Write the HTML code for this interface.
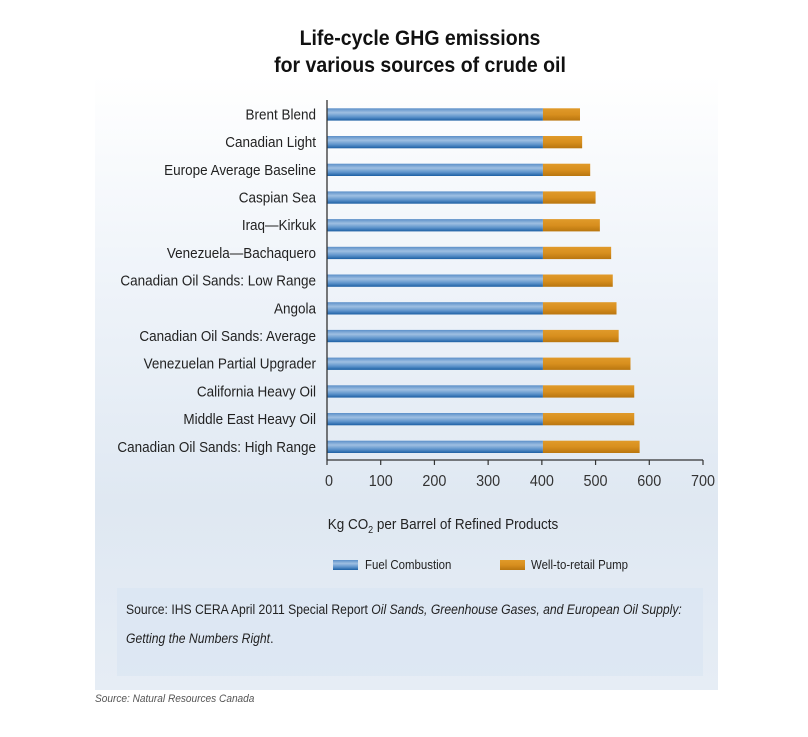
<!DOCTYPE html>
<html><head><meta charset="utf-8"><style>
body{margin:0;background:#fff;}
svg text{font-family:"Liberation Sans",sans-serif;}
</style></head><body>
<svg width="808" height="732" viewBox="0 0 808 732" xmlns="http://www.w3.org/2000/svg">
<defs>
<linearGradient id="bg" x1="0" y1="0" x2="0" y2="1">
<stop offset="0" stop-color="#ffffff"/><stop offset="0.35" stop-color="#eef3f9"/><stop offset="0.7" stop-color="#dfe8f2"/><stop offset="1" stop-color="#e6edf5"/></linearGradient>
<linearGradient id="blue" x1="0" y1="0" x2="0" y2="1">
<stop offset="0" stop-color="#5b8fc8"/><stop offset="0.35" stop-color="#9ebfe2"/><stop offset="0.7" stop-color="#5d93cb"/><stop offset="1" stop-color="#1c5fa3"/></linearGradient>
<linearGradient id="orange" x1="0" y1="0" x2="0" y2="1">
<stop offset="0" stop-color="#e09a2a"/><stop offset="0.5" stop-color="#d88f1e"/><stop offset="1" stop-color="#b9760f"/></linearGradient>
</defs>
<rect x="95" y="75" width="623" height="615" fill="url(#bg)"/>
<rect x="117" y="588" width="586" height="88" fill="#dae6f2" opacity="0.7"/>
<text class="c" data-sx="0.93" x="420" y="45" text-anchor="middle" font-size="21" font-weight="bold" fill="#111">Life-cycle GHG emissions</text>
<text class="c" data-sx="0.93" x="420" y="72" text-anchor="middle" font-size="21" font-weight="bold" fill="#111">for various sources of crude oil</text>
<g id="plot"></g>
<text class="c" data-sx="0.9" x="443" y="529" text-anchor="middle" font-size="15" fill="#222">Kg CO<tspan font-size="10" dy="4">2</tspan><tspan dy="-4"> per Barrel of Refined Products</tspan></text>
<rect x="333" y="560" width="25" height="10" fill="url(#blue)"/>
<text class="c" data-sx="0.88" x="365" y="569" font-size="13" fill="#222">Fuel Combustion</text>
<rect x="500" y="560" width="25" height="10" fill="url(#orange)"/>
<text class="c" data-sx="0.88" x="531" y="569" font-size="13" fill="#222">Well-to-retail Pump</text>
<text class="c" data-sx="0.87" x="126" y="614" font-size="14" fill="#222">Source: IHS CERA April 2011 Special Report <tspan font-style="italic">Oil Sands, Greenhouse Gases, and European Oil Supply:</tspan></text>
<text class="c" data-sx="0.87" x="126" y="643" font-size="14" fill="#222"><tspan font-style="italic">Getting the Numbers Right</tspan>.</text>
<text class="c" data-sx="0.92" x="95" y="702" font-size="11" font-style="italic" fill="#555">Source: Natural Resources Canada</text>
</svg>
<script>
const categories=["Brent Blend","Canadian Light","Europe Average Baseline","Caspian Sea","Iraq\u2014Kirkuk","Venezuela\u2014Bachaquero","Canadian Oil Sands: Low Range","Angola","Canadian Oil Sands: Average","Venezuelan Partial Upgrader","California Heavy Oil","Middle East Heavy Oil","Canadian Oil Sands: High Range"];
const fuelCombustion=[402,402,402,402,402,402,402,402,402,402,402,402,402];
const wellToPump=[69,73,88,98,106,127,130,137,141,163,170,170,180];
const xTicks=[0,100,200,300,400,500,600,700];
const NS="http://www.w3.org/2000/svg";
const g=document.getElementById('plot');
const x0=327,x1=703,xmax=700,yTop=108.3,step=27.7,bh=12.3,axisY=460;
function xs(v){return x0+v/xmax*(x1-x0);}
function ys(i){return yTop+i*step;}
function mk(t,a){const e=document.createElementNS(NS,t);for(const k in a)e.setAttribute(k,a[k]);g.appendChild(e);return e;}
categories.forEach((c,i)=>{
 const y=ys(i);
 const l=mk('text',{x:316,y:y+bh/2+5,'text-anchor':'end','font-size':15,fill:'#222','class':'c','data-sx':'0.9'});
 l.textContent=c;
 
 
 const b=mk('rect',{x:xs(0),y:y,width:xs(fuelCombustion[i])-xs(0),height:bh,fill:'url(#blue)'});
 
 
 const o=mk('rect',{x:xs(fuelCombustion[i]),y:y,width:xs(fuelCombustion[i]+wellToPump[i])-xs(fuelCombustion[i]),height:bh,fill:'url(#orange)'});
 
 
});
const ya=mk('line',{x1:x0,y1:100,x2:x0,y2:axisY,stroke:'#333','stroke-width':1.3});


const xa=mk('line',{x1:x0,y1:axisY,x2:x1,y2:axisY,stroke:'#333','stroke-width':1.3});


xTicks.forEach(t=>{
 const tk=mk('line',{x1:xs(t),y1:axisY,x2:xs(t),y2:axisY+5,stroke:'#333','stroke-width':1.2});
 
 
 const tl=mk('text',{x:xs(t)+(t===0?2:0),y:486,'text-anchor':'middle','font-size':16,fill:'#333','class':'c','data-sx':'0.9'});
 tl.textContent=t;
 
 
});
document.querySelectorAll('text.c').forEach(t=>{
 const x=parseFloat(t.getAttribute('x')),s=parseFloat(t.getAttribute('data-sx'));
 t.setAttribute('transform','translate('+x+' 0) scale('+s+' 1) translate('+(-x)+' 0)');
});
</script>
</body></html>
